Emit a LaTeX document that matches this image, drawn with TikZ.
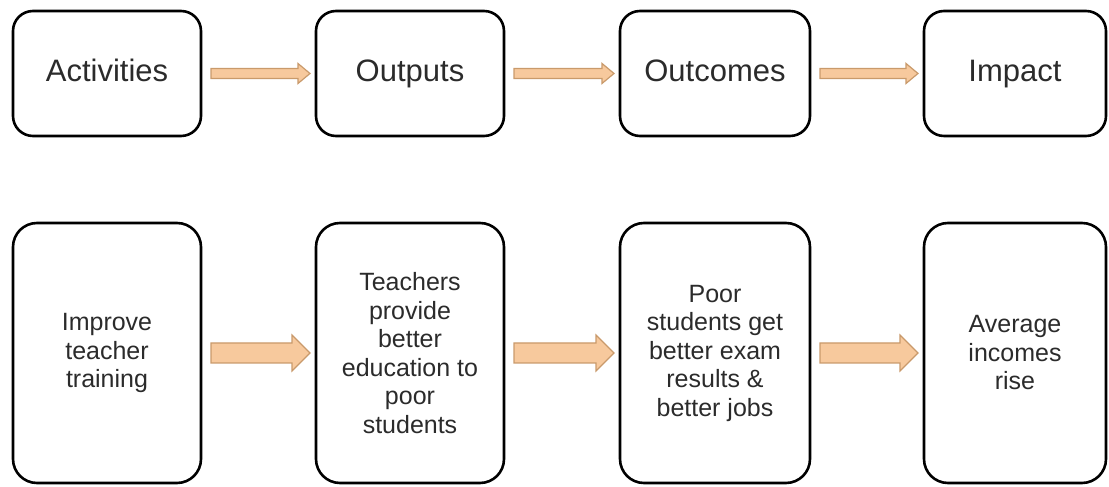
\documentclass[tikz,border=0pt]{standalone}
\usepackage{fontspec}
\setmainfont{Liberation Sans}
\usetikzlibrary{positioning,calc}
\definecolor{cFlow}{HTML}{F7C99D}
\definecolor{cFlowEdge}{HTML}{C99A6B}
\definecolor{cText}{HTML}{2B2B2B}
\tikzset{
  stage/.style={draw,line width=2.6pt,rounded corners=20pt,align=center,
                text=cText,inner sep=4pt,outer sep=0pt},
  shead/.style={stage,minimum width=188pt,minimum height=125pt,
                text height=22pt,text depth=6pt,
                font=\fontsize{31}{36}\selectfont},
  sbody/.style={stage,minimum width=188pt,minimum height=260pt,rounded corners=24pt,
                font=\fontsize{25}{28.5}\selectfont},
  sflow/.style={fill=cFlow,draw=cFlowEdge,line width=1.2pt,line join=miter},
}
% block arrow: from, to, half shaft, half head, head length
\newcommand{\flowarrow}[5]{%
  \draw[sflow] ($(#1.east)+(10,#3)$) -- ($(#2.west)+(-6-#5,#3)$)
    -- ($(#2.west)+(-6-#5,#4)$) -- ($(#2.west)+(-6,0)$)
    -- ($(#2.west)+(-6-#5,-#4)$) -- ($(#2.west)+(-6-#5,-#3)$)
    -- ($(#1.east)+(10,-#3)$) -- cycle;}

\begin{document}
\begin{tikzpicture}[x=1pt,y=1pt]
  \useasboundingbox (0,0) rectangle (1109,487);
  % headings
  \node[shead] (act) at (107,413.5) {Activities};
  \node[shead,right=115pt of act] (outp) {Outputs};
  \node[shead,right=116pt of outp,minimum width=190pt] (outc) {Outcomes};
  \node[shead,right=114pt of outc,minimum width=182pt] (imp) {Impact};
  % example chain
  \node[sbody,below=87pt of act] (train) {Improve\\teacher\\training};
  \node[sbody,below=87pt of outp] (teach) {Teachers\\provide\\better\\education to\\poor\\students};
  \node[sbody,below=87pt of outc,minimum width=190pt] (exam) {Poor\\students get\\better exam\\results \&\\better jobs};
  \node[sbody,below=87pt of imp,minimum width=182pt] (rise) {Average\\incomes\\rise};
  \flowarrow{act}{outp}{5}{10}{12}
  \flowarrow{outp}{outc}{5}{10}{12}
  \flowarrow{outc}{imp}{5}{10}{12}
  \flowarrow{train}{teach}{10}{18}{18}
  \flowarrow{teach}{exam}{10}{18}{18}
  \flowarrow{exam}{rise}{10}{18}{18}
\end{tikzpicture}
\end{document}
